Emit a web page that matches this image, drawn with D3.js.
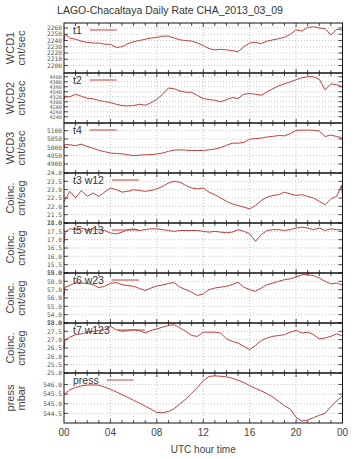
<!DOCTYPE html>
<html><head><meta charset="UTF-8">
<script src="https://cdn.jsdelivr.net/npm/d3@7/dist/d3.min.js"></script>
<style>
  body { margin:0; background:#fff; font-family:"Liberation Sans", Arial, sans-serif; }
  svg { display:block; }
</style>
</head>
<body>
<svg id="chart"></svg>
<script>
// time of day (UTC hours), shared by all series
var hours = [0, 0.1, 0.5, 1, 1.5, 2, 2.5, 3, 3.5, 4, 4.5, 5, 5.5, 6, 6.5, 7, 7.5, 8, 8.5, 9, 9.5,
  10, 10.5, 11, 11.5, 12, 12.5, 13, 13.5, 14, 14.5, 15, 15.5, 16, 16.5, 17, 17.5, 18, 18.5, 19, 19.5,
  20, 20.5, 21, 21.5, 22, 22.5, 23, 23.5, 23.9, 24];

var t1 = [2240, 2250, 2244, 2242, 2239, 2237, 2236, 2236, 2234, 2234, 2229, 2230, 2235, 2238, 2240, 2242, 2244, 2245, 2247, 2247, 2244,
  2241, 2240, 2239, 2236, 2232, 2227, 2225, 2226, 2225, 2224, 2222, 2230, 2236, 2237, 2235, 2239, 2241, 2243, 2245, 2250,
  2257, 2255, 2261, 2262, 2260, 2259, 2249, 2258, 2257, 2255];
var t2 = [4310, 4322, 4320, 4330, 4322, 4314, 4312, 4305, 4301, 4297, 4290, 4285, 4283, 4285, 4290, 4286, 4296, 4310, 4330, 4355, 4352,
  4343, 4338, 4338, 4325, 4313, 4309, 4306, 4300, 4308, 4317, 4313, 4330, 4333, 4330, 4326, 4340, 4352, 4364, 4372, 4380,
  4388, 4396, 4400, 4400, 4390, 4348, 4372, 4368, 4362, 4360];
var t4 = [5000, 5018, 5015, 5010, 5019, 5005, 4995, 4982, 4974, 4966, 4963, 4961, 4955, 4950, 4953, 4955, 4956, 4960, 4966, 4976, 4983,
  4985, 4983, 4981, 4981, 4981, 4985, 4990, 4998, 5012, 5025, 5025, 5030, 5049, 5052, 5056, 5062, 5066, 5071, 5069, 5082,
  5102, 5103, 5104, 5102, 5098, 5065, 5074, 5065, 5058, 5055];
var t3w12 = [22.3, 22.4, 22.9, 22.5, 22.95, 22.6, 22.8, 22.6, 22.85, 23.1, 23.0, 22.85, 22.9, 23.0, 22.95, 22.9, 22.95, 23.05, 23.2, 23.4, 23.5,
  23.45, 23.25, 23.1, 23.05, 23.1, 22.85, 22.7, 22.5, 22.3, 22.15, 22.05, 21.95, 21.85, 22.05, 22.35, 22.55, 22.65, 22.7, 22.85, 22.75,
  22.65, 22.7, 22.6, 22.5, 22.3, 22.1, 22.45, 22.6, 23.25, 22.7];
var t5w13 = [16.8, 17.45, 17.65, 17.6, 17.7, 17.55, 17.65, 17.6, 17.55, 17.4, 17.35, 17.45, 17.6, 17.65, 17.55, 17.6, 17.65, 17.65, 17.6, 17.55, 17.5,
  17.55, 17.55, 17.55, 17.55, 17.5, 17.45, 17.5, 17.45, 17.42, 17.45, 17.6, 17.5, 17.35, 16.9, 17.3, 17.55, 17.6, 17.6, 17.55, 17.6,
  17.7, 17.75, 17.7, 17.6, 17.7, 17.55, 17.65, 17.6, 17.6, 17.55];
var t6w23 = [56.3, 57.3, 57.5, 57.85, 57.8, 57.75, 57.6, 57.25, 57.4, 57.75, 57.85, 57.6, 57.5, 57.4, 57.15, 56.9, 57.2, 57.45, 57.55, 57.75, 57.85,
  57.3, 57.0, 56.7, 56.3, 56.5, 57.0, 57.2, 57.3, 57.4, 57.6, 57.9, 57.3, 57.0, 56.8, 57.2, 57.6, 57.8, 58.0, 58.2, 58.3,
  58.5, 58.8, 58.8, 58.7, 58.4, 58.0, 57.7, 57.8, 57.6, 57.7];
var t7w123 = [26.5, 27.0, 27.15, 27.3, 27.35, 27.45, 27.5, 27.55, 27.6, 27.8, 27.6, 27.5, 27.55, 27.6, 27.55, 27.4, 27.55, 27.65, 27.75, 27.85, 27.9,
  27.7, 27.5, 27.25, 27.2, 27.45, 27.45, 27.45, 27.4, 27.05, 26.9, 26.8, 26.6, 26.4, 26.65, 26.95, 27.1, 27.2, 27.25, 27.3, 27.45,
  27.55, 27.4, 27.45, 27.3, 27.05, 27.1, 27.2, 27.35, 27.25, 27.3];
var press = [545.5, 545.53, 545.73, 545.85, 545.93, 545.97, 545.98, 545.97, 545.87, 545.75, 545.62, 545.47, 545.33, 545.18, 545.03, 544.88, 544.72, 544.55, 544.53, 544.6, 544.75,
  545.0, 545.25, 545.55, 545.85, 546.2, 546.42, 546.45, 546.43, 546.4, 546.33, 546.22, 546.1, 545.95, 545.8, 545.67, 545.52, 545.35, 545.12, 544.9, 544.72,
  544.3, 544.1, 544.15, 544.28, 544.4, 544.5, 544.85, 545.15, 545.35, 545.42];

// tick labels
var xTickValues = [0, 4, 8, 12, 16, 20, 24];
var xTickLabels = ["00", "04", "08", "12", "16", "20", "00"];
var ticksWcd1 = [2200, 2210, 2220, 2230, 2240, 2250, 2260];
var ticksWcd2 = [4240, 4260, 4280, 4300, 4320, 4340, 4360, 4380, 4400];
var ticksWcd3 = [4900, 4950, 5000, 5050, 5100];
var ticksT3 = [21.0, 21.5, 22.0, 22.5, 23.0, 23.5, 24.0];
var ticksT5 = [15.0, 15.5, 16.0, 16.5, 17.0, 17.5, 18.0];
var ticksT6 = [53, 54, 55, 56, 57, 58, 59];
var ticksT7 = [25.0, 25.5, 26.0, 26.5, 27.0, 27.5, 28.0];
var ticksPress = [544.5, 545.0, 545.5, 546.0];

var panels = [
  {label: ["WCD1", "cnt/sec"], key: "t1", values: t1, domain: [2188, 2268], ticks: ticksWcd1, fmt: "d"},
  {label: ["WCD2", "cnt/sec"], key: "t2", values: t2, domain: [4215, 4415], ticks: ticksWcd2, fmt: "d"},
  {label: ["WCD3", "cnt/sec"], key: "t4", values: t4, domain: [4846, 5146], ticks: ticksWcd3, fmt: "d"},
  {label: ["Coinc.", "cnt/seg"], key: "t3 w12", values: t3w12, domain: [21, 24], ticks: ticksT3, fmt: ".1f"},
  {label: ["Coinc.", "cnt/seg"], key: "t5 w13", values: t5w13, domain: [15, 18], ticks: ticksT5, fmt: ".1f"},
  {label: ["Coinc.", "cnt/seg"], key: "t6 w23", values: t6w23, domain: [53, 59], ticks: ticksT6, fmt: ".1f"},
  {label: ["Coinc.", "cnt/seg"], key: "t7 w123", values: t7w123, domain: [25, 28], ticks: ticksT7, fmt: ".1f"},
  {label: ["press", "mbar"], key: "press", values: press, domain: [544.0, 546.6], ticks: ticksPress, fmt: ".1f"}
];

var width = 357, height = 459;
var plotLeft = 64, plotRight = 342.5, plotTop = 23, panelH = 50;
var lineColor = "#c0403c";

var svg = d3.select("#chart").attr("width", width).attr("height", height);

var x = d3.scaleLinear().domain([0, 24]).range([plotLeft, plotRight]);

svg.append("text")
  .attr("x", 170).attr("y", 14)
  .attr("text-anchor", "middle")
  .attr("font-size", 10.5).attr("fill", "#333")
  .text("LAGO-Chacaltaya Daily Rate CHA_2013_03_09");

panels.forEach(function (p, i) {
  var top = plotTop + i * panelH, bottom = top + panelH;
  var y = d3.scaleLinear().domain(p.domain).range([bottom, top]);
  var g = svg.append("g");
  var fmt = d3.format(p.fmt);
  // dense tick lists get a smaller font
  var spacing = Math.abs(y(p.ticks[1]) - y(p.ticks[0]));
  var tickFont = spacing < 6 ? 5.2 : 6.2;

  // grid
  g.selectAll(".vg").data(xTickValues.slice(1, -1)).enter().append("line")
    .attr("x1", function (d) { return x(d); }).attr("x2", function (d) { return x(d); })
    .attr("y1", top).attr("y2", bottom)
    .attr("stroke", "#aaa").attr("stroke-width", 0.7).attr("stroke-dasharray", "1,2");
  g.selectAll(".hg").data(p.ticks.filter(function (d) { return d > p.domain[0] && d < p.domain[1]; }))
    .enter().append("line")
    .attr("x1", plotLeft).attr("x2", plotRight)
    .attr("y1", function (d) { return y(d); }).attr("y2", function (d) { return y(d); })
    .attr("stroke", "#aaa").attr("stroke-width", 0.7).attr("stroke-dasharray", "1,2");

  // y ticks on both sides
  p.ticks.forEach(function (d) {
    g.append("line").attr("x1", plotLeft).attr("x2", plotLeft + 4)
      .attr("y1", y(d)).attr("y2", y(d)).attr("stroke", "#222").attr("stroke-width", 0.8);
    g.append("line").attr("x1", plotRight - 4).attr("x2", plotRight)
      .attr("y1", y(d)).attr("y2", y(d)).attr("stroke", "#222").attr("stroke-width", 0.8);
  });
  g.selectAll(".yl").data(p.ticks).enter().append("text")
    .attr("x", plotLeft - 2).attr("y", function (d) { return y(d) + tickFont * 0.36; })
    .attr("text-anchor", "end")
    .attr("font-family", "'DejaVu Sans Mono', monospace")
    .attr("font-size", tickFont).attr("fill", "#555")
    .text(function (d) { return fmt(d); });

  // x ticks top and bottom, every hour
  d3.range(1, 24).forEach(function (h) {
    var len = h % 4 === 0 ? 4 : 3;
    g.append("line").attr("x1", x(h)).attr("x2", x(h))
      .attr("y1", bottom).attr("y2", bottom - len).attr("stroke", "#222").attr("stroke-width", 0.8);
    g.append("line").attr("x1", x(h)).attr("x2", x(h))
      .attr("y1", top).attr("y2", top + len).attr("stroke", "#222").attr("stroke-width", 0.8);
  });

  // data
  var line = d3.line()
    .x(function (d, k) { return x(hours[k]); })
    .y(function (d) { return y(d); });
  g.append("path").datum(p.values)
    .attr("d", line).attr("fill", "none")
    .attr("stroke", lineColor).attr("stroke-width", 1);

  // key
  var keyText = g.append("text")
    .attr("x", 73).attr("y", top + 10.5)
    .attr("font-size", 10.5).attr("fill", "#333")
    .text(p.key);
  var kw = keyText.node().getComputedTextLength();
  g.append("line")
    .attr("x1", 73 + kw + 8).attr("x2", 73 + kw + 35)
    .attr("y1", top + 7).attr("y2", top + 7)
    .attr("stroke", lineColor).attr("stroke-width", 1);

  // border
  g.append("rect").attr("x", plotLeft).attr("y", top)
    .attr("width", plotRight - plotLeft).attr("height", panelH)
    .attr("fill", "none").attr("stroke", "#111").attr("stroke-width", 1);

  // axis label
  var cy = (top + bottom) / 2;
  p.label.forEach(function (s, j) {
    svg.append("text")
      .attr("transform", "translate(" + (14 + j * 11) + "," + cy + ") rotate(-90)")
      .attr("text-anchor", "middle")
      .attr("font-size", 11).attr("fill", "#444")
      .text(s);
  });
});

// x axis labels
var xBottom = plotTop + panels.length * panelH;
svg.selectAll(".xl").data(xTickValues).enter().append("text")
  .attr("x", function (d) { return x(d); })
  .attr("y", xBottom + 13)
  .attr("text-anchor", "middle")
  .attr("font-size", 10).attr("fill", "#444")
  .text(function (d, k) { return xTickLabels[k]; });

svg.append("text")
  .attr("x", (plotLeft + plotRight) / 2).attr("y", 453)
  .attr("text-anchor", "middle")
  .attr("font-size", 10).attr("fill", "#444")
  .text("UTC hour time");
</script>
</body></html>
